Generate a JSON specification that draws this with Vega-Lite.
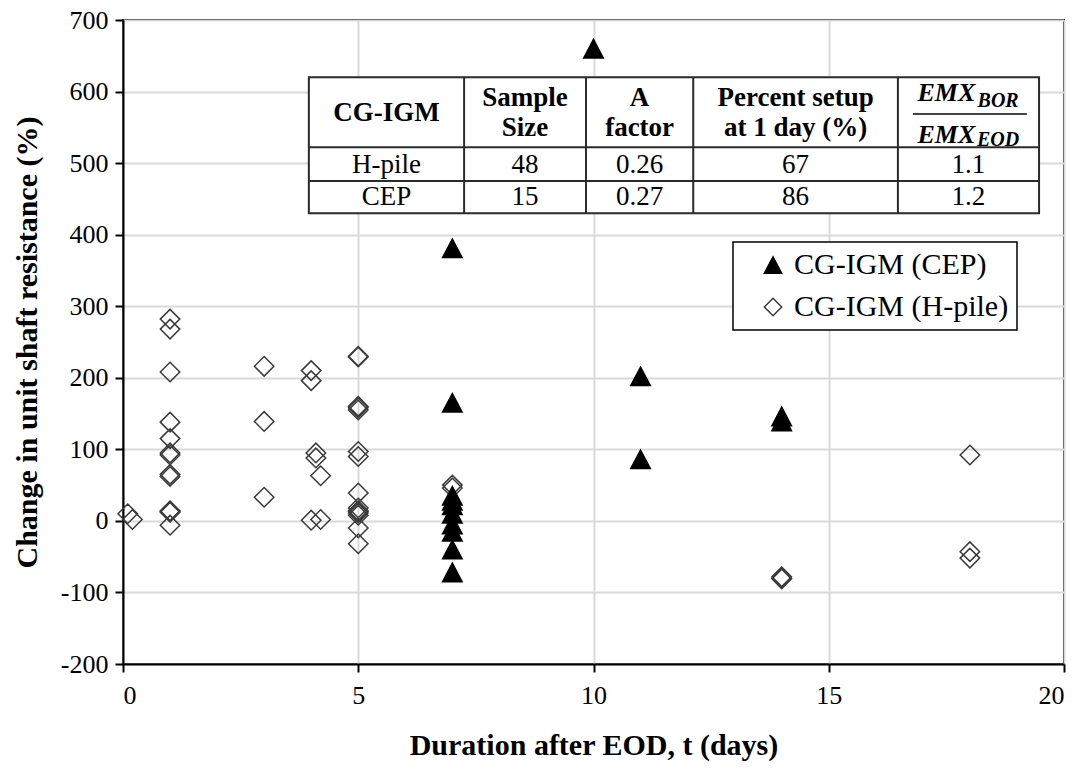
{
  "$schema": "https://vega.github.io/schema/vega-lite/v6.json",
  "width": 941,
  "height": 644,
  "autosize": {"type": "none"},
  "padding": {"left": 123, "top": 20, "right": 22, "bottom": 105},
  "background": "white",
  "config": {
    "view": {"stroke": "black", "strokeWidth": 2},
    "font": "Liberation Serif",
    "style": {"guide-label": {"font": "Liberation Serif", "fontSize": 26, "fill": "black"}, "guide-title": {"font": "Liberation Serif"}},
    "axis": {
      "domainColor": "black", "domainWidth": 2,
      "tickColor": "black", "tickWidth": 2, "tickSize": 8,
      "gridColor": "#d9d9d9", "gridWidth": 2,
      "labelFont": "Liberation Serif", "labelFontSize": 26, "labelColor": "black",
      "titleFont": "Liberation Serif", "titleFontSize": 30, "titleFontWeight": "bold", "titleColor": "black"
    },
    "axisX": {"labelPadding": 10, "titlePadding": 22},
    "axisY": {"labelPadding": 7, "titlePadding": 18},
    "legend": {
      "orient": "none", "legendX": 610, "legendY": 222,
      "strokeColor": "black", "strokeWidth": 1.5, "fillColor": "white",
      "padding": 8, "symbolOffset": 17, "labelOffset": 6, "labelLimit": 500,
      "labelFont": "Liberation Serif", "labelFontSize": 30, "labelColor": "black",
      "symbolSize": 300, "symbolStrokeWidth": 1.5, "rowPadding": 12
    }
  },
  "datasets": {
    "points": [
      {"t": 0.1, "pct": 10, "series": "CG-IGM (H-pile)"},
      {"t": 0.2, "pct": 2, "series": "CG-IGM (H-pile)"},
      {"t": 1, "pct": 282, "series": "CG-IGM (H-pile)"},
      {"t": 1, "pct": 268, "series": "CG-IGM (H-pile)"},
      {"t": 1, "pct": 208, "series": "CG-IGM (H-pile)"},
      {"t": 1, "pct": 138, "series": "CG-IGM (H-pile)"},
      {"t": 1, "pct": 115, "series": "CG-IGM (H-pile)"},
      {"t": 1, "pct": 95, "series": "CG-IGM (H-pile)"},
      {"t": 1, "pct": 92, "series": "CG-IGM (H-pile)"},
      {"t": 1, "pct": 65, "series": "CG-IGM (H-pile)"},
      {"t": 1, "pct": 62, "series": "CG-IGM (H-pile)"},
      {"t": 1, "pct": 14, "series": "CG-IGM (H-pile)"},
      {"t": 1, "pct": 13, "series": "CG-IGM (H-pile)"},
      {"t": 1, "pct": 12, "series": "CG-IGM (H-pile)"},
      {"t": 1, "pct": -6, "series": "CG-IGM (H-pile)"},
      {"t": 3, "pct": 216, "series": "CG-IGM (H-pile)"},
      {"t": 3, "pct": 139, "series": "CG-IGM (H-pile)"},
      {"t": 3, "pct": 33, "series": "CG-IGM (H-pile)"},
      {"t": 4, "pct": 210, "series": "CG-IGM (H-pile)"},
      {"t": 4, "pct": 196, "series": "CG-IGM (H-pile)"},
      {"t": 4, "pct": 1, "series": "CG-IGM (H-pile)"},
      {"t": 4.1, "pct": 95, "series": "CG-IGM (H-pile)"},
      {"t": 4.1, "pct": 88, "series": "CG-IGM (H-pile)"},
      {"t": 4.2, "pct": 63, "series": "CG-IGM (H-pile)"},
      {"t": 4.2, "pct": 2, "series": "CG-IGM (H-pile)"},
      {"t": 5, "pct": 230, "series": "CG-IGM (H-pile)"},
      {"t": 5, "pct": 229, "series": "CG-IGM (H-pile)"},
      {"t": 5, "pct": 160, "series": "CG-IGM (H-pile)"},
      {"t": 5, "pct": 158, "series": "CG-IGM (H-pile)"},
      {"t": 5, "pct": 155, "series": "CG-IGM (H-pile)"},
      {"t": 5, "pct": 97, "series": "CG-IGM (H-pile)"},
      {"t": 5, "pct": 90, "series": "CG-IGM (H-pile)"},
      {"t": 5, "pct": 39, "series": "CG-IGM (H-pile)"},
      {"t": 5, "pct": 18, "series": "CG-IGM (H-pile)"},
      {"t": 5, "pct": 14, "series": "CG-IGM (H-pile)"},
      {"t": 5, "pct": 13, "series": "CG-IGM (H-pile)"},
      {"t": 5, "pct": 11, "series": "CG-IGM (H-pile)"},
      {"t": 5, "pct": 8, "series": "CG-IGM (H-pile)"},
      {"t": 5, "pct": -10, "series": "CG-IGM (H-pile)"},
      {"t": 5, "pct": -32, "series": "CG-IGM (H-pile)"},
      {"t": 7, "pct": 50, "series": "CG-IGM (H-pile)"},
      {"t": 7, "pct": 46, "series": "CG-IGM (H-pile)"},
      {"t": 14, "pct": -78, "series": "CG-IGM (H-pile)"},
      {"t": 14, "pct": -80, "series": "CG-IGM (H-pile)"},
      {"t": 14, "pct": -81, "series": "CG-IGM (H-pile)"},
      {"t": 18, "pct": 92, "series": "CG-IGM (H-pile)"},
      {"t": 18, "pct": -43, "series": "CG-IGM (H-pile)"},
      {"t": 18, "pct": -52, "series": "CG-IGM (H-pile)"},
      {"t": 7, "pct": 381, "series": "CG-IGM (CEP)"},
      {"t": 7, "pct": 165, "series": "CG-IGM (CEP)"},
      {"t": 7, "pct": 35, "series": "CG-IGM (CEP)"},
      {"t": 7, "pct": 28, "series": "CG-IGM (CEP)"},
      {"t": 7, "pct": 22, "series": "CG-IGM (CEP)"},
      {"t": 7, "pct": 10, "series": "CG-IGM (CEP)"},
      {"t": 7, "pct": -5, "series": "CG-IGM (CEP)"},
      {"t": 7, "pct": -15, "series": "CG-IGM (CEP)"},
      {"t": 7, "pct": -40, "series": "CG-IGM (CEP)"},
      {"t": 7, "pct": -72, "series": "CG-IGM (CEP)"},
      {"t": 10, "pct": 660, "series": "CG-IGM (CEP)"},
      {"t": 11, "pct": 202, "series": "CG-IGM (CEP)"},
      {"t": 11, "pct": 86, "series": "CG-IGM (CEP)"},
      {"t": 14, "pct": 146, "series": "CG-IGM (CEP)"},
      {"t": 14, "pct": 139, "series": "CG-IGM (CEP)"}
    ],
    "tableBox": [{"t": 3.95, "t2": 19.47, "pct": 430, "pct2": 620}],
    "tableLines": [
      {"t": 3.95, "t2": 19.47, "pct": 522, "pct2": 522},
      {"t": 3.95, "t2": 19.47, "pct": 475, "pct2": 475},
      {"t": 7.25, "t2": 7.25, "pct": 430, "pct2": 620},
      {"t": 9.84, "t2": 9.84, "pct": 430, "pct2": 620},
      {"t": 12.12, "t2": 12.12, "pct": 430, "pct2": 620},
      {"t": 16.47, "t2": 16.47, "pct": 430, "pct2": 620}
    ],
    "fracLine": [{"t": 16.79, "t2": 19.21, "pct": 568.6, "pct2": 568.6}],
    "head": [
      {"t": 5.6, "pct": 570, "label": "CG-IGM"},
      {"t": 8.545, "pct": 591, "label": "Sample"},
      {"t": 8.545, "pct": 549, "label": "Size"},
      {"t": 10.98, "pct": 591, "label": "A"},
      {"t": 10.98, "pct": 549, "label": "factor"},
      {"t": 14.295, "pct": 591, "label": "Percent setup"},
      {"t": 14.295, "pct": 549, "label": "at 1 day (%)"}
    ],
    "body": [
      {"t": 5.6, "pct": 498, "label": "H-pile"},
      {"t": 8.545, "pct": 498, "label": "48"},
      {"t": 10.98, "pct": 498, "label": "0.26"},
      {"t": 14.295, "pct": 498, "label": "67"},
      {"t": 17.97, "pct": 498, "label": "1.1"},
      {"t": 5.6, "pct": 452, "label": "CEP"},
      {"t": 8.545, "pct": 452, "label": "15"},
      {"t": 10.98, "pct": 452, "label": "0.27"},
      {"t": 14.295, "pct": 452, "label": "86"},
      {"t": 17.97, "pct": 452, "label": "1.2"}
    ],
    "emx": [
      {"t": 17.5, "pct": 597.5, "label": "EMX"},
      {"t": 17.5, "pct": 539.4, "label": "EMX"}
    ],
    "sub": [
      {"t": 18.6, "pct": 586.5, "label": "BOR"},
      {"t": 18.6, "pct": 532.4, "label": "EOD"}
    ]
  },
  "encoding": {
    "x": {"field": "t", "type": "quantitative",
      "scale": {"domain": [0, 20], "nice": false, "zero": false},
      "axis": {"title": "Duration after EOD, t (days)", "values": [0, 5, 10, 15, 20],
        "labelFont": "Liberation Serif", "labelFontSize": 26, "labelColor": "black",
        "labelExpr": "'' + datum.value"}},
    "y": {"field": "pct", "type": "quantitative",
      "scale": {"domain": [-200, 700], "nice": false, "zero": false},
      "axis": {"title": "Change in unit shaft resistance (%)", "values": [-200, -100, 0, 100, 200, 300, 400, 500, 600, 700],
        "labelFont": "Liberation Serif", "labelFontSize": 26, "labelColor": "black",
        "labelExpr": "'' + datum.value"}}
  },
  "layer": [
    {
      "data": {"name": "tableBox"},
      "mark": {"type": "rect", "fill": "white", "stroke": "#2a2a2a", "strokeWidth": 2},
      "encoding": {"x2": {"field": "t2"}, "y2": {"field": "pct2"}}
    },
    {
      "data": {"name": "tableLines"},
      "mark": {"type": "rule", "color": "#2a2a2a", "strokeWidth": 2},
      "encoding": {"x2": {"field": "t2"}, "y2": {"field": "pct2"}}
    },
    {
      "data": {"name": "fracLine"},
      "mark": {"type": "rule", "color": "#444444", "strokeWidth": 2},
      "encoding": {"x2": {"field": "t2"}, "y2": {"field": "pct2"}}
    },
    {
      "data": {"name": "head"},
      "mark": {"type": "text", "font": "Liberation Serif", "fontSize": 27, "fontWeight": "bold", "color": "black", "align": "center", "baseline": "middle"},
      "encoding": {"text": {"field": "label"}}
    },
    {
      "data": {"name": "body"},
      "mark": {"type": "text", "font": "Liberation Serif", "fontSize": 27, "color": "black", "align": "center", "baseline": "middle"},
      "encoding": {"text": {"field": "label"}}
    },
    {
      "data": {"name": "emx"},
      "mark": {"type": "text", "font": "Liberation Serif", "fontSize": 26, "fontWeight": "bold", "fontStyle": "italic", "color": "black", "align": "center", "baseline": "middle"},
      "encoding": {"text": {"field": "label"}}
    },
    {
      "data": {"name": "sub"},
      "mark": {"type": "text", "font": "Liberation Serif", "fontSize": 20, "fontWeight": "bold", "fontStyle": "italic", "color": "black", "align": "center", "baseline": "middle"},
      "encoding": {"text": {"field": "label"}}
    },
    {
      "data": {"name": "points"},
      "mark": {"type": "point", "size": 380, "strokeWidth": 1.5, "opacity": 1},
      "encoding": {
        "shape": {"field": "series", "type": "nominal",
          "scale": {"domain": ["CG-IGM (CEP)", "CG-IGM (H-pile)"], "range": ["M0,-0.95L1,0.95L-1,0.95Z", "diamond"]},
          "legend": {"title": null}},
        "fill": {"field": "series", "type": "nominal",
          "scale": {"domain": ["CG-IGM (CEP)", "CG-IGM (H-pile)"], "range": ["black", "transparent"]},
          "legend": {"title": null}},
        "stroke": {"field": "series", "type": "nominal",
          "scale": {"domain": ["CG-IGM (CEP)", "CG-IGM (H-pile)"], "range": ["black", "#3a3a3a"]},
          "legend": {"title": null}}
      }
    }
  ]
}
